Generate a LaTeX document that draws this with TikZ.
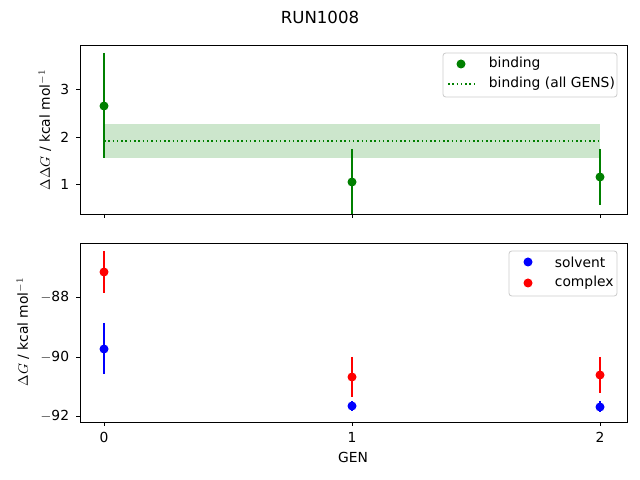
\documentclass[tikz,border=0pt]{standalone}
\usepackage{fontspec}
\setmainfont{DejaVu Sans}
\definecolor{mgreen}{RGB}{0,128,0}
\begin{document}
\begin{tikzpicture}[x=0.01in,y=-0.01in,
  ax/.style={line width=0.6pt,black},
  tk/.style={line width=0.6pt},
  eb/.style={line width=1.1pt},
  lbl/.style={font=\fontsize{10}{12}\selectfont}]
\useasboundingbox (0,0) rectangle (640,480);
\node[font=\fontsize{12}{14}\selectfont] (title) at (320,17) {RUN1008};
% ---- top axes
\fill[mgreen,opacity=0.2] (104,124) rectangle (600,158);
\draw[mgreen,dotted,line width=1.1pt] (104,141) -- (600,141);
\foreach \x/\t/\b/\p in {104/53/158/106, 352/149/214/182, 600/149/205/177}{
  \draw[eb,mgreen] (\x,\t) -- (\x,\b);
  \fill[mgreen] (\x,\p) circle (4.5);
}
\draw[ax] (80,45) rectangle (627,214);
\foreach \y/\l in {89/3,137/2,184/1}{
  \draw[tk] (80,\y) -- (76,\y);
  \node[lbl,anchor=east] (ty\l) at (74,\y) {\l};
}
\foreach \x in {104,352,600}{\draw[tk] (\x,214) -- (\x,218);}
\node[lbl,rotate=90] (yl1) at (45,130) {$\Delta\Delta G$ / kcal mol$^{-1}$};
\draw[line width=0.6pt,draw=black!20,fill=white,fill opacity=0.8,rounded corners=2] (443,53) rectangle (617,97);
\fill[mgreen] (461,64) circle (4.5);
\node[lbl,anchor=west] (lg1) at (484,64) {binding};
\draw[mgreen,dotted,line width=1.1pt] (448,84) -- (476,84);
\node[lbl,anchor=west] (lg2) at (484,84) {binding (all GENS)};
% ---- bottom axes
\foreach \x/\t/\b/\p in {104/323/374/349, 352/401/411/406, 600/401/412/407}{
  \draw[eb,blue] (\x,\t) -- (\x,\b);
  \fill[blue] (\x,\p) circle (4.5);
}
\foreach \x/\t/\b/\p in {104/251/293/272, 352/357/397/377, 600/357/393/375}{
  \draw[eb,red] (\x,\t) -- (\x,\b);
  \fill[red] (\x,\p) circle (4.5);
}
\draw[ax] (80,243) rectangle (627,422);
\foreach \y/\l in {297/88,357/90,416/92}{
  \draw[tk] (80,\y) -- (76,\y);
  \node[lbl,anchor=east] (by\l) at (74,\y) {$-$\l};
}
\foreach \x/\l in {104/0,352/1,600/2}{
  \draw[tk] (\x,422) -- (\x,426);
  \node[lbl] (bx\l) at (\x,437) {\l};
}
\node[lbl] (gen) at (353,457) {GEN};
\node[lbl,rotate=90] (yl2) at (23,332) {$\Delta G$ / kcal mol$^{-1}$};
\draw[line width=0.6pt,draw=black!20,fill=white,fill opacity=0.8,rounded corners=2] (509,251) rectangle (617,296);
\fill[blue] (528,262) circle (4.5);
\node[lbl,anchor=west] (lg3) at (550,262) {solvent};
\fill[red] (528,283) circle (4.5);
\node[lbl,anchor=west] (lg4) at (550,283) {complex};
\end{tikzpicture}
\end{document}
